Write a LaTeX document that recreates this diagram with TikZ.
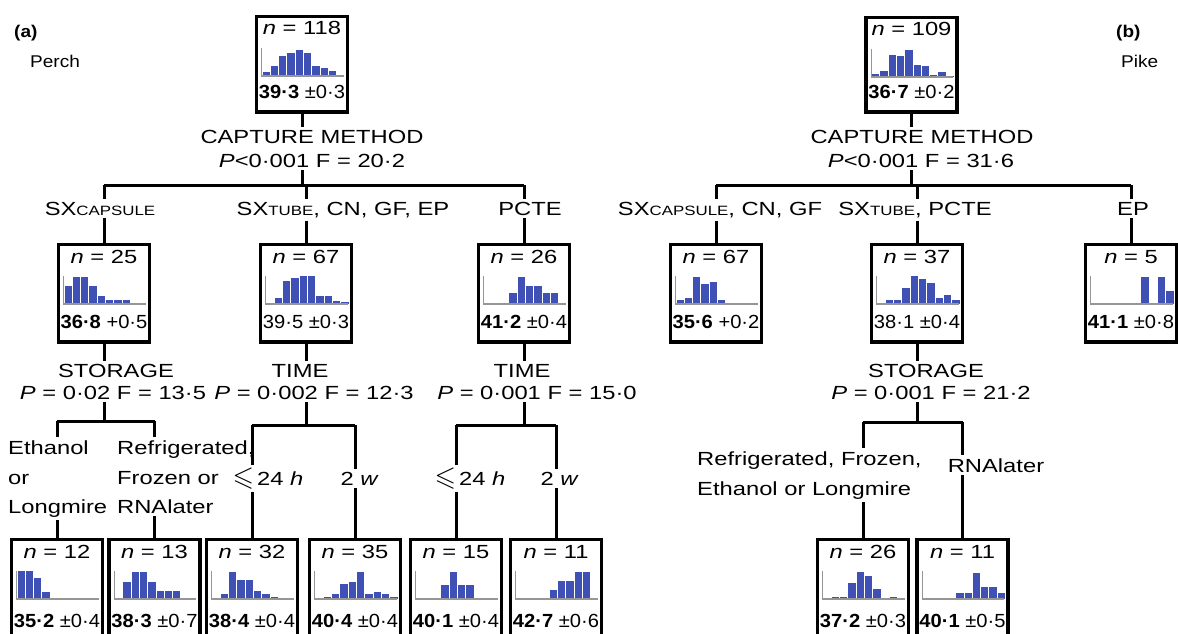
\documentclass[tikz,border=0pt]{standalone}
\usepackage{amssymb}
\usepackage{fontspec}
\setmainfont{Liberation Sans}[FakeStretch=1.25]
\newfontfamily\numfont{Liberation Sans}[FakeStretch=1.06]
\newfontfamily\ttlfont{Liberation Sans}[FakeStretch=1.12]
\definecolor{histblue}{RGB}{63,81,181}
\definecolor{axisgrey}{RGB}{150,150,150}
\newcommand{\scap}[1]{{\fontsize{13.5}{13.5}\selectfont #1}}
\newcommand{\leqs}{\raisebox{-0.5pt}{\scalebox{1.45}{$\leqslant$}}\,}
\tikzset{
  tbox/.style={draw=black, line width=3.5pt, minimum width=91pt, anchor=north, inner sep=0pt},
  ntext/.style={font=\fontsize{19}{19}\selectfont, inner sep=0pt},
  mtext/.style={font=\numfont\fontsize{19}{19}\selectfont, inner sep=0pt},
  lab/.style={font=\fontsize{19}{23}\selectfont, inner sep=3pt},
  conn/.style={line width=3pt},
  axisline/.style={draw=axisgrey, line width=1.2pt},
  bar/.style={fill=histblue, draw=white, line width=0.5pt},
  ttl/.style={font=\ttlfont\fontsize{17}{17}\selectfont, inner sep=0pt}
}
% #1 name, #2 centre x, #3 outer top, #4 n, #5 mean, #6 se, #7 bar heights, #8 outer height
\newcommand{\treebox}[8]{%
  \node[tbox, minimum height={#8-3.5}] (#1) at (#2,{#3+1.75}) {};
  \pgfmathsetmacro\hax{#2-47.25+7}%
  \pgfmathsetmacro\hby{#3+63}%
  \foreach \h [count=\i from 0] in {#7} {%
    \ifnum\h>0\relax
      \path[bar] ({\hax+\i*8.3},\hby) rectangle ++(8.3,-\h);
    \fi}%
  \draw[axisline] (\hax,{\hby-28}) -- (\hax,\hby) -- ({\hax+82},\hby);
  \node[ntext, anchor=base] (#1n) at (#2,{#3+22}) {{\itshape n} = #4};
  \node[mtext, anchor=base] (#1m) at (#2,{#3+#8-14}) {#5 #6};
}
\begin{document}
\begin{tikzpicture}[x=1pt,y=-1pt]
\useasboundingbox (0,0) rectangle (1178,634);
\fill[white] (0,0) rectangle (1178,634);

% ---------------- (a) Perch ----------------
\node[ttl, anchor=base west, font=\ttlfont\bfseries\fontsize{17}{17}\selectfont] (ta) at (14,38) {(a)};
\node[ttl, anchor=base west] (tpa) at (30,68) {Perch};

\treebox{A}{302}{13}{118}{\textbf{39·3}}{±0·3}{5,11,21,24,27,24,11,9,6,1}{99}
\node[lab,anchor=base] (Acm) at (312,143) {CAPTURE METHOD};
\node[lab,anchor=base] (Acs) at (312,167) {{\itshape P}<0·001 F = 20·2};

\treebox{B1}{104}{241}{25}{\textbf{36·8}}{+0·5}{19,28,28,19,9,5,5,5}{101}
\treebox{B2}{306}{241}{67}{39·5}{±0·3}{0,7,24,27,29,29,9,9,4,3}{101}
\treebox{B3}{524}{241}{26}{\textbf{41·2}}{±0·4}{0,0,0,12,28,19,19,12,12}{101}

\node[lab,anchor=base] (Al1) at (100,215) {SX\scap{CAPSULE}};
\node[lab,anchor=base] (Al2) at (343,215) {SX\scap{TUBE}, CN, GF, EP};
\node[lab,anchor=base] (Al3) at (530,215) {PCTE};

\coordinate (Aj) at (302,185);
\draw[conn] (A.south) -- (A.south |- Acm.north);
\draw[conn] (Acs.south -| Aj) -- (Aj);
\draw[conn] (B1.north |- Aj) -- (B3.north |- Aj);
\draw[conn] (B1.north |- Aj) -- (B1.north |- Al1.north);
\draw[conn] (B2.north |- Aj) -- (B2.north |- Al2.north);
\draw[conn] (B3.north |- Aj) -- (B3.north |- Al3.north);
\draw[conn] (B1.north |- Al1.south) -- (B1.north);
\draw[conn] (B2.north |- Al2.south) -- (B2.north);
\draw[conn] (B3.north |- Al3.south) -- (B3.north);

% level 3 boxes (a)
\treebox{C1}{57}{536}{12}{\textbf{35·2}}{±0·4}{29,29,22,8}{105}
\treebox{C2}{154.5}{536}{13}{\textbf{38·3}}{±0·7}{0,18,28,28,18,9,9,9}{105}
\treebox{C3}{252}{536}{32}{\textbf{38·4}}{±0·4}{0,6,28,20,20,9,6,3}{105}
\treebox{C4}{355}{536}{35}{\textbf{40·4}}{±0·4}{0,3,6,16,18,28,6,8,6,3}{105}
\treebox{C5}{456}{536}{15}{\textbf{40·1}}{±0·4}{0,0,0,15,28,15,15}{105}
\treebox{C6}{556}{536}{11}{\textbf{42·7}}{±0·6}{0,0,0,0,10,19,19,28,28}{105}

% storage branch
\node[lab,anchor=base] (Bs1) at (116,377) {STORAGE};
\node[lab,anchor=base] (Bs1b) at (113,399) {{\itshape P} = 0·02 F = 13·5};
\coordinate (B1j) at (104,421);
\draw[conn] (B1.south) -- (B1.south |- Bs1.north);
\draw[conn] (Bs1b.south -| B1j) -- (B1j);
\draw[conn] (C1.north |- B1j) -- (C2.north |- B1j);
\node[lab,anchor=base west] (E1a) at (5,454) {Ethanol};
\node[lab,anchor=base west] (E1b) at (5,484) {or};
\node[lab,anchor=base west] (E1c) at (5,513) {Longmire};
\node[lab,anchor=base west] (E2a) at (114,454) {Refrigerated,};
\node[lab,anchor=base west] (E2b) at (114,484) {Frozen or};
\node[lab,anchor=base west] (E2c) at (114,513) {RNAlater};
\draw[conn] (C1.north |- B1j) -- (C1.north |- E1a.north);
\draw[conn] (C2.north |- B1j) -- (C2.north |- E2a.north);
\draw[conn] (C1.north |- E1c.south) -- (C1.north);
\draw[conn] (C2.north |- E2c.south) -- (C2.north);

% time branch 1
\node[lab,anchor=base] (Bt2) at (300,377) {TIME};
\node[lab,anchor=base] (Bt2b) at (314,399) {{\itshape P} = 0·002 F = 12·3};
\coordinate (B2j) at (306,425);
\draw[conn] (B2.south) -- (B2.south |- Bt2.north);
\draw[conn] (Bt2b.south -| B2j) -- (B2j);
\draw[conn] (C3.north |- B2j) -- (C4.north |- B2j);
\node[lab,anchor=base] (F3) at (268,485) {\leqs24 {\itshape h}};
\node[lab,anchor=base] (F4) at (359,485) {2 {\itshape w}};
\draw[conn] (C3.north |- B2j) -- (C3.north |- F3.north);
\draw[conn] (C4.north |- B2j) -- (C4.north |- F4.north);
\draw[conn] (C3.north |- F3.south) -- (C3.north);
\draw[conn] (C4.north |- F4.south) -- (C4.north);

% time branch 2
\node[lab,anchor=base] (Bt3) at (522,377) {TIME};
\node[lab,anchor=base] (Bt3b) at (537,399) {{\itshape P} = 0·001 F = 15·0};
\coordinate (B3j) at (524,425);
\draw[conn] (B3.south) -- (B3.south |- Bt3.north);
\draw[conn] (Bt3b.south -| B3j) -- (B3j);
\draw[conn] (C5.north |- B3j) -- (C6.north |- B3j);
\node[lab,anchor=base] (F5) at (470,485) {\leqs24 {\itshape h}};
\node[lab,anchor=base] (F6) at (559,485) {2 {\itshape w}};
\draw[conn] (C5.north |- B3j) -- (C5.north |- F5.north);
\draw[conn] (C6.north |- B3j) -- (C6.north |- F6.north);
\draw[conn] (C5.north |- F5.south) -- (C5.north);
\draw[conn] (C6.north |- F6.south) -- (C6.north);

% ---------------- (b) Pike ----------------
\node[ttl, anchor=base west, font=\ttlfont\bfseries\fontsize{17}{17}\selectfont] (tb) at (1116,38) {(b)};
\node[ttl, anchor=base west] (tpb) at (1121,68) {Pike};

\treebox{P}{911.5}{14}{109}{\textbf{36·7}}{±0·2}{4,7,23,22,28,13,12,3,6,2}{98}
\node[lab,anchor=base] (Pcm) at (922,143) {CAPTURE METHOD};
\node[lab,anchor=base] (Pcs) at (921,167) {{\itshape P}<0·001 F = 31·6};

\treebox{Q1}{716}{241}{67}{\textbf{35·6}}{+0·2}{5,7,28,21,23,5,2,2,2}{101}
\treebox{Q2}{917}{241}{37}{38·1}{±0·4}{0,5,5,17,29,26,22,7,10,5}{101}
\treebox{Q3}{1131}{241}{5}{\textbf{41·1}}{±0·8}{0,0,0,0,0,0,28,0,28,14}{101}

\node[lab,anchor=base] (Pl1) at (720,215) {SX\scap{CAPSULE}, CN, GF};
\node[lab,anchor=base] (Pl2) at (915,215) {SX\scap{TUBE}, PCTE};
\node[lab,anchor=base] (Pl3) at (1133,215) {EP};

\coordinate (Pj) at (911.5,185);
\draw[conn] (P.south) -- (P.south |- Pcm.north);
\draw[conn] (Pcs.south -| Pj) -- (Pj);
\draw[conn] (Q1.north |- Pj) -- (Q3.north |- Pj);
\draw[conn] (Q1.north |- Pj) -- (Q1.north |- Pl1.north);
\draw[conn] (Q2.north |- Pj) -- (Q2.north |- Pl2.north);
\draw[conn] (Q3.north |- Pj) -- (Q3.north |- Pl3.north);
\draw[conn] (Q1.north |- Pl1.south) -- (Q1.north);
\draw[conn] (Q2.north |- Pl2.south) -- (Q2.north);
\draw[conn] (Q3.north |- Pl3.south) -- (Q3.north);

\treebox{R1}{863}{536}{26}{\textbf{37·2}}{±0·3}{0,3,3,17,28,24,11,0,3}{105}
\treebox{R2}{962.5}{536}{11}{\textbf{40·1}}{±0·5}{0,0,0,0,7,7,27,13,13,7}{105}

\node[lab,anchor=base] (Qs) at (926,377) {STORAGE};
\node[lab,anchor=base] (Qsb) at (931,399) {{\itshape P} = 0·001 F = 21·2};
\coordinate (Qj) at (917,422);
\draw[conn] (Q2.south) -- (Q2.south |- Qs.north);
\draw[conn] (Qsb.south -| Qj) -- (Qj);
\draw[conn] (R1.north |- Qj) -- (R2.north |- Qj);
\node[lab,anchor=base west] (Ra) at (694,465) {Refrigerated, Frozen,};
\node[lab,anchor=base west] (Rb) at (694,495) {Ethanol or Longmire};
\node[lab,anchor=base] (Rc) at (996,472) {RNAlater};
\draw[conn] (R1.north |- Qj) -- (R1.north |- Ra.north);
\draw[conn] (R2.north |- Qj) -- (R2.north |- Rc.north);
\draw[conn] (R1.north |- Rb.south) -- (R1.north);
\draw[conn] (R2.north |- Rc.south) -- (R2.north);
\end{tikzpicture}
\end{document}
